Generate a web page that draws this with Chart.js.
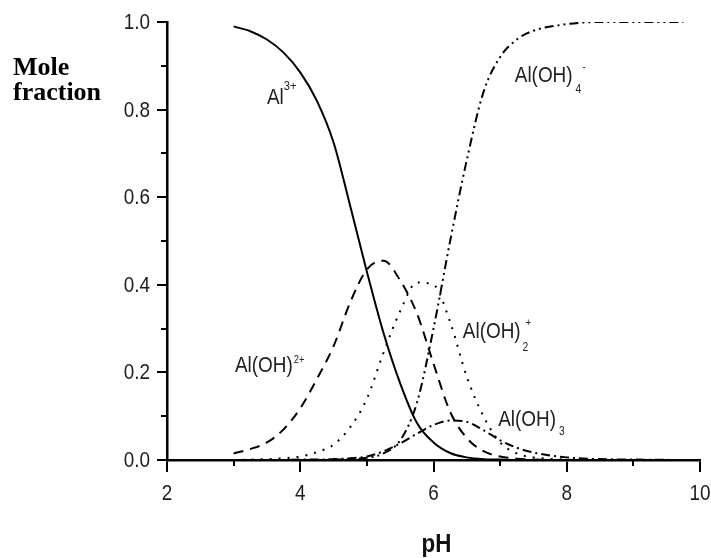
<!DOCTYPE html>
<html>
<head>
<meta charset="utf-8">
<script src="https://cdn.jsdelivr.net/npm/chart.js@4.4.1/dist/chart.umd.min.js"></script>
<style>
  html, body { margin: 0; padding: 0; background: #ffffff; }
  #chart { display: block; }
</style>
</head>
<body>
<canvas id="chart" width="711" height="558"></canvas>
<script>
// pH grid shared by all species
const PH = [3, 3.25, 3.5, 3.75, 4, 4.25, 4.5, 4.75, 5, 5.25, 5.5, 5.75, 6, 6.25, 6.5, 6.75, 7, 7.25, 7.5, 8, 8.5, 9, 9.75];

// mole fractions
const AL3 =   [0.99, 0.979, 0.96, 0.93, 0.885, 0.82, 0.725, 0.58, 0.43, 0.29, 0.175, 0.085, 0.04, 0.016, 0.006, 0.002, 0.001, 0, 0, 0, 0, 0, 0];
const ALOH =  [0.015, 0.025, 0.04, 0.07, 0.118, 0.185, 0.26, 0.36, 0.435, 0.455, 0.41, 0.335, 0.22, 0.11, 0.05, 0.02, 0.008, 0.003, 0.001, 0, 0, 0, 0];
const ALOH2 = [0, 0.001, 0.002, 0.004, 0.008, 0.018, 0.035, 0.075, 0.14, 0.245, 0.34, 0.405, 0.4, 0.315, 0.19, 0.1, 0.04, 0.015, 0.006, 0.001, 0, 0, 0];
const ALOH3 = [0, 0, 0, 0, 0.001, 0.001, 0.002, 0.004, 0.008, 0.02, 0.038, 0.06, 0.08, 0.09, 0.087, 0.068, 0.045, 0.028, 0.017, 0.006, 0.002, 0.001, 0];
const ALOH4 = [0, 0, 0, 0, 0, 0, 0.001, 0.002, 0.005, 0.015, 0.045, 0.13, 0.3, 0.5, 0.685, 0.84, 0.92, 0.96, 0.98, 0.995, 1, 1, 1];

const X_TICKS = [2, 4, 6, 8, 10];
const X_MINOR = [3, 5, 7, 9];
const Y_MINOR = [0.1, 0.3, 0.5, 0.7, 0.9];

// curve labels: anchor in data units (pH, fraction), sub/sup offsets in px from end of main text
const LABELS = [
  { text: "Al", x: 3.5, y: 0.813, sup: "3+", supDx: 0, supDy: -14, supSize: 13 },
  { text: "Al(OH)", x: 7.22, y: 0.863, sub: "4", subDx: 3, subDy: 11, sup: "-", supDx: 10, supDy: -12, supSize: 11 },
  { text: "Al(OH)", x: 3.02, y: 0.201, sup: "2+", supDx: 1, supDy: -9, supSize: 11 },
  { text: "Al(OH)", x: 6.44, y: 0.279, sub: "2", subDx: 2, subDy: 13, sup: "+", supDx: 5, supDy: -12, supSize: 11 },
  { text: "Al(OH)", x: 6.97, y: 0.078, sub: "3", subDx: 3, subDy: 9 },
];

const SANS = "'Liberation Sans', Arial, sans-serif";
const SQUEEZE = 0.86;

function points(values) {
  return PH.map((x, i) => ({ x, y: values[i] }));
}

function curve(label, values, dash) {
  return {
    label,
    data: points(values),
    borderColor: "#000000",
    borderWidth: 2,
    borderDash: dash,
    pointRadius: 0,
    fill: false,
    cubicInterpolationMode: "monotone",
  };
}

// narrow-looking text: plain sans squeezed horizontally
function narrowText(ctx, text, x, y, font, align, baseline) {
  ctx.save();
  ctx.font = font;
  ctx.textAlign = align;
  ctx.textBaseline = baseline;
  ctx.translate(x, y);
  ctx.scale(SQUEEZE, 1);
  ctx.fillText(text, 0, 0);
  const w = ctx.measureText(text).width * SQUEEZE;
  ctx.restore();
  return w;
}

const extras = {
  id: "extras",
  afterDraw(chart) {
    const { ctx, chartArea, scales } = chart;
    const sx = scales.x, sy = scales.y;
    ctx.save();

    // minor ticks
    ctx.strokeStyle = "#000000";
    ctx.lineWidth = 2;
    X_MINOR.forEach((v) => {
      const px = Math.round(sx.getPixelForValue(v));
      ctx.beginPath();
      ctx.moveTo(px, chartArea.bottom);
      ctx.lineTo(px, chartArea.bottom + 6);
      ctx.stroke();
    });
    Y_MINOR.forEach((v) => {
      const py = Math.round(sy.getPixelForValue(v));
      ctx.beginPath();
      ctx.moveTo(chartArea.left, py);
      ctx.lineTo(chartArea.left - 6, py);
      ctx.stroke();
    });

    // tick labels
    ctx.fillStyle = "#1e1e1e";
    sx.ticks.forEach((t) => {
      narrowText(ctx, String(t.value), sx.getPixelForValue(t.value), chartArea.bottom + 40, "22px " + SANS, "center", "alphabetic");
    });
    sy.ticks.forEach((t) => {
      narrowText(ctx, t.value.toFixed(1), chartArea.left - 17, sy.getPixelForValue(t.value) + 1, "22px " + SANS, "right", "middle");
    });

    // species labels
    ctx.fillStyle = "#222222";
    LABELS.forEach((l) => {
      const px = sx.getPixelForValue(l.x);
      const py = sy.getPixelForValue(l.y);
      const w = narrowText(ctx, l.text, px, py, "22px " + SANS, "left", "alphabetic");
      if (l.sub) narrowText(ctx, l.sub, px + w + l.subDx, py + l.subDy, "12px " + SANS, "left", "alphabetic");
      if (l.sup) narrowText(ctx, l.sup, px + w + l.supDx, py + l.supDy, l.supSize + "px " + SANS, "left", "alphabetic");
    });

    // axis captions
    ctx.fillStyle = "#111111";
    narrowText(ctx, "pH", (chartArea.left + chartArea.right) / 2 + 3, 552, "bold 26px " + SANS, "center", "alphabetic");
    ctx.fillStyle = "#000000";
    ctx.font = "bold 26px 'Liberation Serif', 'Times New Roman', serif";
    ctx.textAlign = "left";
    ctx.textBaseline = "alphabetic";
    ctx.fillText("Mole", 13, 75);
    ctx.fillText("fraction", 13, 100);

    ctx.restore();
  },
};

new Chart(document.getElementById("chart"), {
  type: "line",
  data: {
    datasets: [
      curve("Al3+", AL3, []),
      curve("Al(OH)2+", ALOH, [10, 7]),
      curve("Al(OH)2+", ALOH2, [2, 7]),
      curve("Al(OH)3", ALOH3, [9, 4, 2, 4]),
      curve("Al(OH)4-", ALOH4, [9, 4, 2, 4, 2, 4]),
    ],
  },
  options: {
    responsive: false,
    animation: false,
    layout: { padding: { top: 22, right: 11, left: 0, bottom: 0 } },
    plugins: {
      legend: { display: false },
      tooltip: { enabled: false },
    },
    scales: {
      x: {
        type: "linear",
        min: 2,
        max: 10,
        afterFit(scale) { scale.height = 98; scale.paddingLeft = 0; scale.paddingRight = 0; },
        afterBuildTicks(scale) { scale.ticks = X_TICKS.map((v) => ({ value: v })); },
        border: { display: true, color: "#000000", width: 2.5 },
        grid: { display: true, drawOnChartArea: false, drawTicks: true, tickLength: 12, color: "#000000", lineWidth: 2 },
        ticks: { display: false },
      },
      y: {
        type: "linear",
        min: 0,
        max: 1,
        afterFit(scale) { scale.width = 167; scale.paddingTop = 0; scale.paddingBottom = 0; },
        border: { display: true, color: "#000000", width: 2.5 },
        grid: { display: true, drawOnChartArea: false, drawTicks: true, tickLength: 10, color: "#000000", lineWidth: 2 },
        ticks: { stepSize: 0.2, display: false },
      },
    },
  },
  plugins: [extras],
});
</script>
</body>
</html>
